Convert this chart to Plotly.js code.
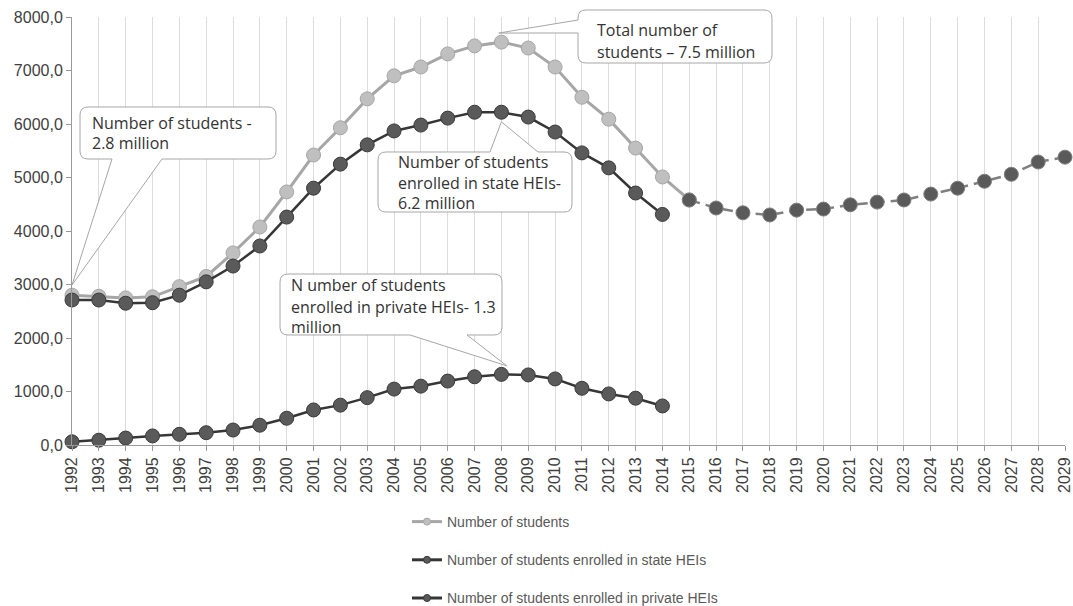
<!DOCTYPE html>
<html>
<head>
<meta charset="utf-8">
<script src="https://cdn.plot.ly/plotly-3.0.1.min.js"></script>
<style>html,body{margin:0;padding:0;background:#fff}#chart{width:1073px;height:606px}</style>
</head>
<body>
<div id="chart"></div>
<script>
// ---- data ----
const years = [1992,1993,1994,1995,1996,1997,1998,1999,2000,2001,2002,2003,2004,2005,2006,2007,2008,2009,2010,2011,2012,2013,2014];
const totalStudents = [2800,2780,2750,2770,2960,3150,3590,4075,4730,5420,5930,6470,6900,7065,7310,7460,7530,7420,7065,6500,6090,5550,5010];
const stateStudents = [2710,2710,2650,2660,2800,3050,3345,3720,4260,4800,5250,5610,5870,5980,6110,6220,6220,6130,5850,5460,5180,4710,4310];
const privateStudents = [60,90,130,170,200,230,280,370,500,655,745,885,1045,1100,1195,1275,1320,1310,1235,1060,955,875,730];
const forecastYears = [2015,2016,2017,2018,2019,2020,2021,2022,2023,2024,2025,2026,2027,2028,2029];
const forecastStudents = [4580,4430,4340,4300,4390,4410,4490,4540,4580,4690,4800,4930,5060,5290,5380];
const seriesNames = ["Number of students","Number of students enrolled in state HEIs","Number of students enrolled in private HEIs"];
const calloutTexts = [
  ["Number of students -","2.8 million"],
  ["Total number of","students \u2013 7.5 million"],
  ["Number of students","enrolled in state HEIs-","6.2 million"],
  ["N umber of students","enrolled in private HEIs- 1.3","million"]
];

// ---- geometry ----
const W=1073,H=606, L=72, R=1065, T=17, B=445;
const X0=1992, X1=2029, Y0=0, Y1=8000;
function toPaper(x,y){return [(x-L)/(R-L),(B-y)/(B-T)];}
function P(x,y){const p=toPaper(x,y);return p[0].toFixed(5)+','+p[1].toFixed(5);}
function dataPx(yr,v){return [L+(yr-X0)*(R-L)/(X1-X0), B-(v-Y0)*(B-T)/(Y1-Y0)];}

function calloutPath(box, side, b1, b2, tip){
  const [x0,y0,x1,y1]=box, r=8;
  const t=P(tip[0],tip[1]);
  let s='M'+P(x0+r,y0);
  if(side==='top') s+=' L'+P(b1,y0)+' L'+t+' L'+P(b2,y0);
  s+=' L'+P(x1-r,y0)+' Q'+P(x1,y0)+' '+P(x1,y0+r);
  s+=' L'+P(x1,y1-r)+' Q'+P(x1,y1)+' '+P(x1-r,y1);
  if(side==='bottom') s+=' L'+P(b2,y1)+' L'+t+' L'+P(b1,y1);
  s+=' L'+P(x0+r,y1)+' Q'+P(x0,y1)+' '+P(x0,y1-r);
  if(side==='left') s+=' L'+P(x0,b2)+' L'+t+' L'+P(x0,b1);
  s+=' L'+P(x0,y0+r)+' Q'+P(x0,y0)+' '+P(x0+r,y0)+' Z';
  return s;
}

const callouts = [
  {box:[80,107,276,159], side:'bottom', b1:112, b2:162, tip:dataPx(1992,2990), left:92, base:[128,148]},
  {box:[578,10,772,63], side:'left', b1:20, b2:33, tip:dataPx(2007.9,7700), left:597, base:[35,57]},
  {box:[378,152,572,212], side:'top', b1:490, b2:538, tip:dataPx(2008,6040), left:398, base:[167,188,208]},
  {box:[280,274,502,335], side:'bottom', b1:410, b2:467, tip:dataPx(2008.2,1480), left:291, base:[290,312,332]}
];

const shapes=[], annotations=[];
callouts.forEach((c,i)=>{
  shapes.push({type:'path', xref:'paper', yref:'paper', layer:'above',
    path:calloutPath(c.box,c.side,c.b1,c.b2,c.tip),
    fillcolor:'#ffffff', line:{color:'#a6a6a6', width:1}});
  calloutTexts[i].forEach((txt,j)=>{
    const p=toPaper(c.left-2, c.base[j]-5);
    annotations.push({xref:'paper', yref:'paper', x:p[0], y:p[1], xanchor:'left', yanchor:'middle',
      text:txt, showarrow:false, font:{family:'Open Sans', size:16, color:'#333333'}});
  });
});

const lightMarker={color:'#bfbfbf', size:14, line:{color:'#a6a6a6', width:1}};
const darkMarker={color:'#5a5a5a', size:14, line:{color:'#3a3a3a', width:1}};

const traces=[
  {x:years.concat([forecastYears[0]]), y:totalStudents.concat([forecastStudents[0]]), mode:'lines+markers', line:{color:'#a6a6a6', width:3},
    marker:lightMarker, showlegend:false, cliponaxis:false},
  {x:forecastYears, y:forecastStudents, mode:'lines+markers', line:{color:'#7f7f7f', width:2.5, dash:'11px,6px'},
    marker:{color:'#5a5a5a', size:14, line:{color:'#7f7f7f', width:1}}, showlegend:false, cliponaxis:false},
  {x:years, y:stateStudents, mode:'lines+markers', line:{color:'#363636', width:2.5},
    marker:darkMarker, showlegend:false, cliponaxis:false},
  {x:years, y:privateStudents, mode:'lines+markers', line:{color:'#363636', width:2.5},
    marker:darkMarker, showlegend:false, cliponaxis:false},
  {x:[null], y:[null], name:seriesNames[0], mode:'lines+markers', line:{color:'#a6a6a6', width:3},
    marker:{color:'#bfbfbf', size:7, line:{color:'#a6a6a6', width:1}}, legendgroup:'a'},
  {x:[null], y:[null], name:seriesNames[1], mode:'lines+markers', line:{color:'#363636', width:3},
    marker:{color:'#5a5a5a', size:7, line:{color:'#3a3a3a', width:1}}, legendgroup:'b'},
  {x:[null], y:[null], name:seriesNames[2], mode:'lines+markers', line:{color:'#363636', width:3},
    marker:{color:'#5a5a5a', size:7, line:{color:'#3a3a3a', width:1}}, legendgroup:'c'}
];

const layout={
  width:W, height:H, margin:{l:L, r:W-R, t:T, b:H-B, autoexpand:false},
  paper_bgcolor:'#ffffff', plot_bgcolor:'#ffffff',
  separators:', ',
  font:{family:'Liberation Sans, Arial, sans-serif', color:'#404040'},
  xaxis:{range:[X0,X1], dtick:1, tick0:X0, tickangle:-90, showgrid:true, gridcolor:'#dcdcdc', gridwidth:1,
    zeroline:false, showline:true, linecolor:'#9a9a9a', linewidth:1, ticks:'outside', ticklen:5, tickcolor:'#9a9a9a',
    tickfont:{size:16, color:'#404040'}, fixedrange:true, automargin:false, ticklabeloverflow:'allow'},
  yaxis:{range:[Y0,Y1], dtick:1000, tickformat:'.1f', showgrid:false, zeroline:false, showline:true,
    linecolor:'#9a9a9a', linewidth:1, ticks:'outside', ticklen:5, tickcolor:'#9a9a9a',
    tickfont:{size:16, color:'#404040'}, fixedrange:true, automargin:false, ticklabeloverflow:'allow'},
  showlegend:true,
  legend:{x:toPaper(407,0)[0], y:toPaper(0,506)[1], xanchor:'left', yanchor:'top', orientation:'v',
    tracegroupgap:17, font:{size:14, color:'#595959'}, bgcolor:'rgba(0,0,0,0)'},
  shapes:shapes, annotations:annotations
};

Plotly.newPlot('chart', traces, layout, {displayModeBar:false, staticPlot:true});
</script>
</body>
</html>
